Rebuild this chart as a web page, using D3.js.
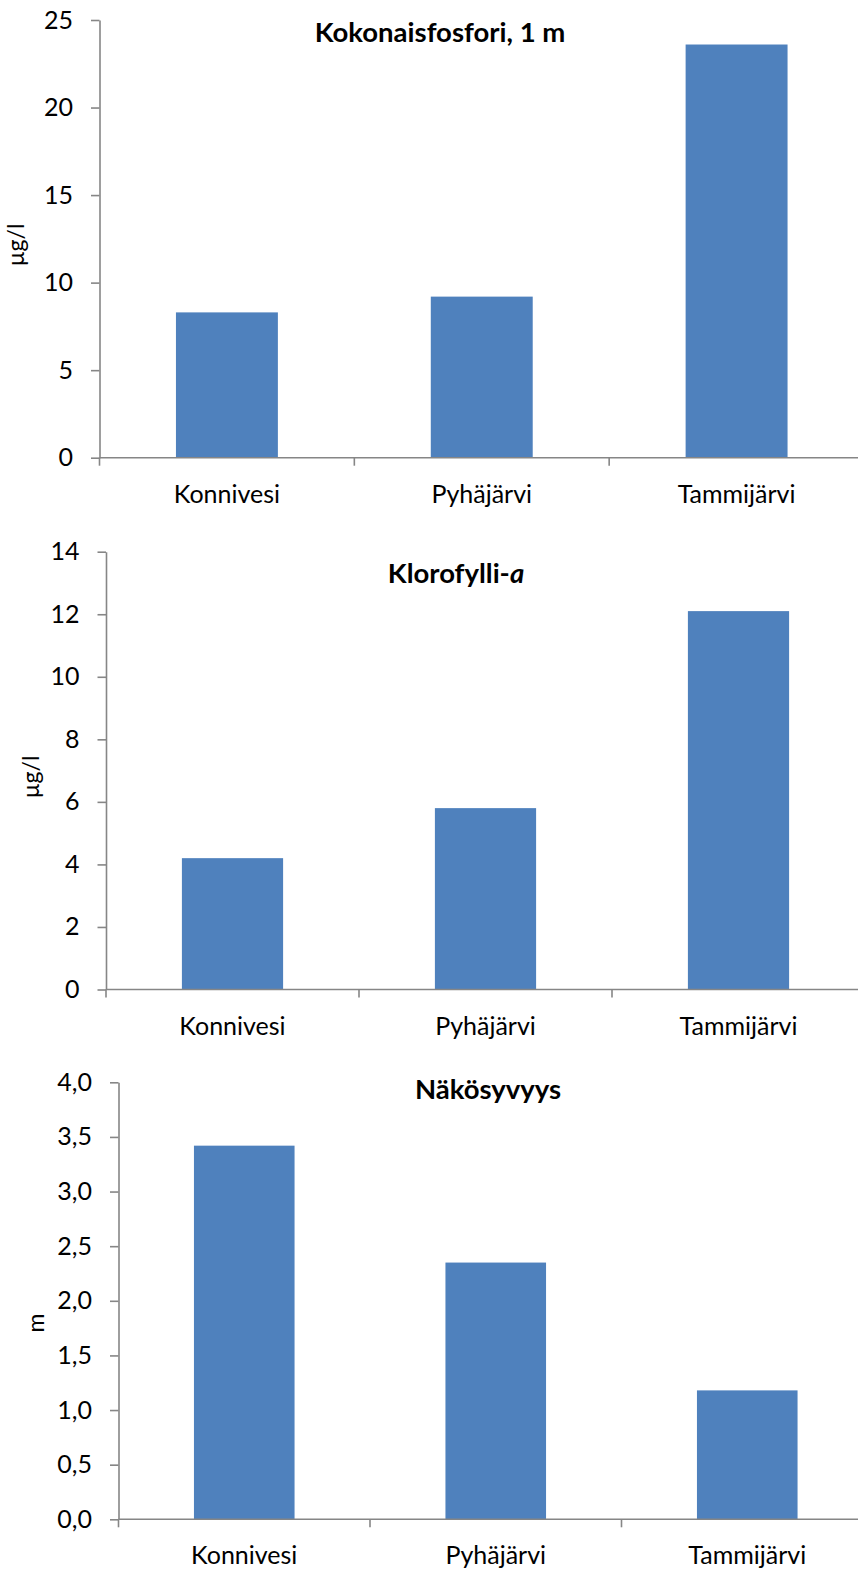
<!DOCTYPE html>
<html>
<head>
<meta charset="utf-8">
<script src="https://cdn.jsdelivr.net/npm/d3@7"></script>
<style>
  html, body { margin: 0; padding: 0; background: #fff; }
  svg { display: block; }
  text { font-family: Lato, "Open Sans", sans-serif; fill: #000; }
</style>
</head>
<body>
<svg id="chart" width="858" height="1569"></svg>
<script>
// Lakes compared in every panel
const lakes = ["Konnivesi", "Pyhäjärvi", "Tammijärvi"];

// Total phosphorus at 1 m depth (µg/l)
const phosphorus = [8.3, 9.2, 23.6];
const phosphorusTicks = [0, 5, 10, 15, 20, 25];

// Chlorophyll a (µg/l)
const chlorophyll = [4.2, 5.8, 12.1];
const chlorophyllTicks = [0, 2, 4, 6, 8, 10, 12, 14];

// Secchi depth (m)
const secchi = [3.42, 2.35, 1.18];
const secchiTicks = [0, 0.5, 1, 1.5, 2, 2.5, 3, 3.5, 4];

const svg = d3.select("#chart");
const barColor = "#4f81bd";
const axisColor = "#868686";
const commaFmt = v => d3.format(".1f")(v).replace(".", ",");

const panels = [
  { values: phosphorus, ticks: phosphorusTicks, fmt: d3.format("d"),
    title: [{ t: "Kokonaisfosfori, 1 m" }], unit: "µg/l",
    left: 99.5, right: 864, top: 20, bottom: 457.7,
    titleX: 440, titleY: 42, unitX: 24, unitY: 245 },
  { values: chlorophyll, ticks: chlorophyllTicks, fmt: d3.format("d"),
    title: [{ t: "Klorofylli-" }, { t: "a", italic: true }], unit: "µg/l",
    left: 106, right: 865, top: 551.7, bottom: 989.5,
    titleX: 456, titleY: 583, unitX: 39, unitY: 777 },
  { values: secchi, ticks: secchiTicks, fmt: commaFmt,
    title: [{ t: "Näkösyvyys" }], unit: "m",
    left: 118.5, right: 873, top: 1082.3, bottom: 1519.3,
    titleX: 488, titleY: 1099, unitX: 44, unitY: 1323 }
];

panels.forEach(p => {
  const g = svg.append("g");
  const yMax = p.ticks[p.ticks.length - 1];

  const x = d3.scaleBand().domain(lakes).range([p.left, p.right])
    .paddingInner(0.6).paddingOuter(0.3);
  const y = d3.scaleLinear().domain([0, yMax]).range([p.bottom, p.top]);

  // bars
  g.selectAll("rect.bar").data(lakes).join("rect")
    .attr("class", "bar")
    .attr("x", d => x(d))
    .attr("width", x.bandwidth())
    .attr("y", (d, i) => y(p.values[i]))
    .attr("height", (d, i) => y(0) - y(p.values[i]))
    .attr("fill", barColor);

  // value axis
  const yAxis = g.append("g")
    .attr("transform", `translate(${p.left},0)`)
    .call(d3.axisLeft(y).tickValues(p.ticks).tickFormat(p.fmt)
      .tickSize(8.5).tickSizeOuter(0).tickPadding(18));
  yAxis.select(".domain").attr("stroke", axisColor).attr("stroke-width", 1.6);
  yAxis.selectAll(".tick line").attr("stroke", axisColor).attr("stroke-width", 1.6);
  yAxis.selectAll(".tick text")
    .style("font-family", "Lato, 'Open Sans', sans-serif")
    .attr("font-size", 25).attr("fill", "#000");

  // category axis line
  g.append("line")
    .attr("x1", p.left).attr("x2", p.right)
    .attr("y1", y(0)).attr("y2", y(0))
    .attr("stroke", axisColor).attr("stroke-width", 1.6);

  // category boundary ticks
  const bounds = d3.range(lakes.length + 1).map(i => x.range()[0] + i * x.step());
  g.selectAll("line.xt").data(bounds).join("line")
    .attr("class", "xt")
    .attr("x1", d => d).attr("x2", d => d)
    .attr("y1", y(0)).attr("y2", y(0) + 8)
    .attr("stroke", axisColor).attr("stroke-width", 1.6);

  // category labels
  g.selectAll("text.cat").data(lakes).join("text")
    .attr("class", "cat")
    .attr("x", d => x(d) + x.bandwidth() / 2)
    .attr("y", y(0) + 45)
    .attr("text-anchor", "middle")
    .attr("font-size", 25)
    .text(d => d);

  // panel title
  const title = g.append("text")
    .attr("x", p.titleX).attr("y", p.titleY)
    .attr("text-anchor", "middle")
    .attr("font-size", 27.5).attr("font-weight", "bold");
  p.title.forEach(s => {
    title.append("tspan").text(s.t)
      .attr("font-style", s.italic ? "italic" : "normal");
  });

  // unit label
  g.append("text")
    .attr("transform", `translate(${p.unitX},${p.unitY}) rotate(-90)`)
    .attr("text-anchor", "middle")
    .attr("font-size", 23)
    .text(p.unit);
});
</script>
</body>
</html>
